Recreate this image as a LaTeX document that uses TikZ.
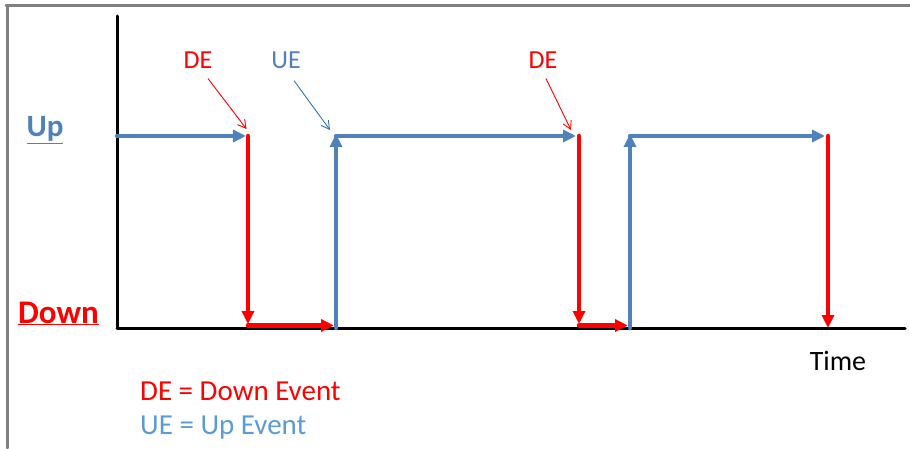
\documentclass[tikz,border=0pt]{standalone}
\usepackage{fontspec}
\setmainfont{Carlito}
\usepackage{tkz-euclide}
\usetikzlibrary{arrows.meta}
\definecolor{UpClr}{HTML}{4F81BD}
\definecolor{DownClr}{HTML}{FF0000}
\definecolor{NoteClr}{HTML}{2E75B6}
\definecolor{KeyClr}{HTML}{5B9BD5}
\definecolor{FrameClr}{HTML}{808080}

\begin{document}
\begin{tikzpicture}[x=1pt,y=1pt,
  level/.style={line width=4.5pt,-{Triangle[length=13pt,width=12pt]}},
  uplevel/.style={level,color=UpClr},
  downlevel/.style={level,color=DownClr},
  pointer/.style={line width=0.9pt,-{Straight Barb[length=8pt,width=9pt]}},
  lbl/.style={inner sep=0pt,font=\fontsize{26}{28}\selectfont}]
\useasboundingbox (0,0) rectangle (910,448);

% frame and axes
\tkzDefPoints{6/442.5/F0,910/442.5/F1,7.5/442.5/F2,7.5/0/F3}
\tkzDefPoints{117/120/O,117/432/Y,905/120/X}
\tkzDrawSegment[line width=3pt,color=FrameClr](F0,F1)
\tkzDrawSegment[line width=3pt,color=FrameClr](F2,F3)
\tkzDrawSegments[line width=3pt,black,line cap=round](O,Y O,X)

% levels
\tkzDefPoints{117/312/U0,246/312/U1,336/312/U2,576/312/U3,630/312/U4,825/312/U5}
\tkzDefPoints{248/312/D0,248/124/D1,248/122.5/D2,334/122.5/D3}
\tkzDefPoints{579/312/D4,579/124/D5,579/122.5/D6,628/122.5/D7}
\tkzDefPoints{828/312/D8,828/120/D9}
\tkzDefPoints{336/120/V0,336/314/V1,630/120/V2,630/314/V3}

\tkzDrawSegment[uplevel](U0,U1)
\tkzDrawSegment[downlevel](D0,D1)
\tkzDrawSegment[downlevel](D2,D3)
\tkzDrawSegment[uplevel](V0,V1)
\tkzDrawSegment[uplevel](U2,U3)
\tkzDrawSegment[downlevel](D4,D5)
\tkzDrawSegment[downlevel](D6,D7)
\tkzDrawSegment[uplevel](V2,V3)
\tkzDrawSegment[uplevel](U4,U5)
\tkzDrawSegment[downlevel](D8,D9)

% event labels
\node[lbl,text=DownClr] (de1) at (198,388) {DE};
\node[lbl,text=UpClr]   (ue1) at (286,388) {UE};
\node[lbl,text=DownClr] (de2) at (543,388) {DE};
\tkzDefPoints{246.5/319/P1,330/318/P2,571/318/P3}
\draw[pointer,DownClr] ([xshift=10pt,yshift=-10pt]de1.south) -- (P1);
\draw[pointer,NoteClr] ([xshift=8pt,yshift=-12pt]ue1.south) -- (P2);
\draw[pointer,DownClr] ([xshift=3pt,yshift=-10pt]de2.south) -- (P3);

% level names, axis name, key
\node[anchor=base,inner sep=0pt,text=UpClr,font=\fontsize{31}{33}\selectfont\bfseries]
  (up) at (45,311) {\underline{Up}};
\node[anchor=base,inner sep=0pt,text=DownClr,font=\fontsize{33}{35}\selectfont\bfseries]
  (down) at (58.5,125) {\underline{Down}};
\node[anchor=base,inner sep=0pt,font=\fontsize{28}{30}\selectfont]
  (time) at (838,78) {Time};
\node[anchor=base west,inner sep=0pt,text=DownClr,font=\fontsize{29}{31}\selectfont]
  (keyde) at (140,48) {DE = Down Event};
\node[anchor=base west,inner sep=0pt,text=KeyClr,font=\fontsize{29}{31}\selectfont]
  (keyue) at (140,14) {UE = Up Event};

\end{tikzpicture}
\end{document}
